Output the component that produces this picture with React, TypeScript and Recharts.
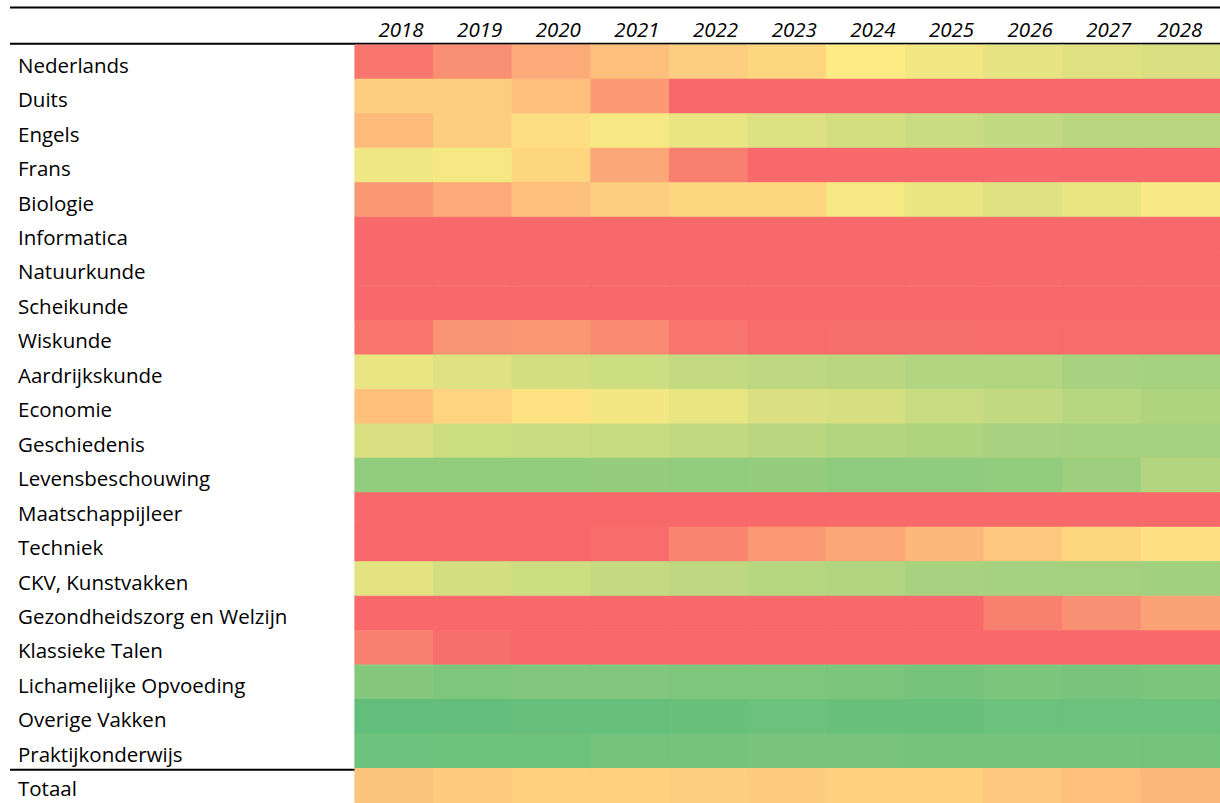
import { BarChart, Bar, Cell, XAxis, YAxis, Customized } from 'recharts';

// score per cell on the colour scale: 0 = red, 50 = yellow, 100 = green
const years = ['2018', '2019', '2020', '2021', '2022', '2023', '2024', '2025', '2026', '2027', '2028'];

const subjects = [
  'Nederlands',
  'Duits',
  'Engels',
  'Frans',
  'Biologie',
  'Informatica',
  'Natuurkunde',
  'Scheikunde',
  'Wiskunde',
  'Aardrijkskunde',
  'Economie',
  'Geschiedenis',
  'Levensbeschouwing',
  'Maatschappijleer',
  'Techniek',
  'CKV, Kunstvakken',
  'Gezondheidszorg en Welzijn',
  'Klassieke Talen',
  'Lichamelijke Opvoeding',
  'Overige Vakken',
  'Praktijkonderwijs',
  'Totaal',
];

const nederlands = [5, 15, 25, 33, 39, 42, 50, 54, 58, 60, 62];
const duits = [39, 39, 33, 19, 0, 0, 0, 0, 0, 0, 0];
const engels = [31, 39, 45, 53, 57, 61, 64, 67, 70, 72, 72];
const frans = [55, 53, 42, 24, 9, 0, 0, 0, 0, 0, 0];
const biologie = [18, 25, 33, 39, 42, 42, 53, 57, 60, 57, 52];
const informatica = [0, 0, 0, 0, 0, 0, 0, 0, 0, 0, 0];
const natuurkunde = [0, 0, 0, 0, 0, 0, 0, 0, 0, 0, 0];
const scheikunde = [0, 0, 0, 0, 0, 0, 0, 0, 0, 0, 0];
const wiskunde = [5, 17, 18, 13, 5, 1, 2, 2, 1, 1, 1];
const aardrijkskunde = [57, 60, 64, 66, 69, 71, 72, 75, 75, 78, 79];
const economie = [34, 41, 47, 54, 57, 62, 63, 67, 70, 73, 76];
const geschiedenis = [62, 66, 67, 68, 70, 72, 74, 76, 78, 79, 79];
const levensbeschouwing = [85, 85, 85, 84, 85, 84, 86, 86, 85, 81, 74];
const maatschappijleer = [0, 0, 0, 0, 0, 0, 0, 0, 0, 0, 0];
const techniek = [0, 0, 0, 1.5, 11, 19, 24, 30, 36, 42, 46];
const ckv = [59, 64, 66, 69, 71, 73, 75, 78, 79, 79, 80];
const gezondheidszorg = [0, 0, 0, 0, 0, 0, 0, 0, 8.5, 15, 22];
const klassiekeTalen = [9, 2, 0, 0, 0, 0, 0, 0, 0, 0, 0];
const lichamelijkeOpvoeding = [89, 91, 90, 90, 91, 91, 92, 94, 92, 93, 92];
const overigeVakken = [100, 100, 99, 99, 98, 97, 98, 98, 97, 97, 97];
const praktijkonderwijs = [97, 96, 96, 95, 94, 93, 93, 94, 94, 94, 95];
const totaal = [35, 38, 40, 40, 39, 38, 40, 40, 36, 33, 30];

const scores = [
  nederlands, duits, engels, frans, biologie, informatica, natuurkunde, scheikunde,
  wiskunde, aardrijkskunde, economie, geschiedenis, levensbeschouwing, maatschappijleer,
  techniek, ckv, gezondheidszorg, klassiekeTalen, lichamelijkeOpvoeding, overigeVakken,
  praktijkonderwijs, totaal,
];

// every cell has width 1 in the stack, colour comes from the score
const data = subjects.map((name) => {
  const row: Record<string, string | number> = { name };
  years.forEach((_, c) => {
    row[`c${c}`] = 1;
  });
  return row;
});

const RED = [248, 105, 107];
const YELLOW = [255, 235, 132];
const GREEN = [99, 190, 123];

const mix = (a: number[], b: number[], t: number) =>
  `rgb(${a.map((v, i) => Math.round(v + (b[i] - v) * t)).join(',')})`;

const colorFor = (s: number) => (s <= 50 ? mix(RED, YELLOW, s / 50) : mix(YELLOW, GREEN, (s - 50) / 50));

const FONT = '"Open Sans", sans-serif';

const YearTick = (props: any) => {
  const { x, payload } = props;
  return (
    <text x={x - 10} y={37} textAnchor="end" fontFamily={FONT} fontSize={20.5} fontStyle="italic" fill="#000">
      {years[payload.value - 1]}
    </text>
  );
};

const SubjectTick = (props: any) => {
  const { y, payload } = props;
  return (
    <text x={18} y={y + 10.5} textAnchor="start" fontFamily={FONT} fontSize={20.5} fill="#000">
      {payload.value}
    </text>
  );
};

const Rules = () => (
  <g>
    <line x1={10} x2={1220} y1={7.5} y2={7.5} stroke="#000" strokeWidth={2} />
    <line x1={10} x2={1220} y1={43.7} y2={43.7} stroke="#000" strokeWidth={2} />
    <line x1={10} x2={1220} y1={769.8} y2={769.8} stroke="#000" strokeWidth={2} />
  </g>
);

export default function App() {
  return (
    <div style={{ position: 'absolute', left: 0, top: 0, width: 1220, height: 803, overflow: 'hidden', background: '#fff' }}>
      <BarChart
        width={1220}
        height={803}
        data={data}
        layout="vertical"
        barCategoryGap={0}
        margin={{ top: 0, right: 0, bottom: 0, left: 0 }}
      >
        <XAxis
          type="number"
          orientation="top"
          domain={[0, years.length]}
          ticks={years.map((_, i) => i + 1)}
          height={45}
          axisLine={false}
          tickLine={false}
          tick={<YearTick />}
        />
        <YAxis
          type="category"
          dataKey="name"
          width={355}
          axisLine={false}
          tickLine={false}
          interval={0}
          tick={<SubjectTick />}
        />
        {years.map((_, c) => (
          <Bar key={c} dataKey={`c${c}`} stackId="cells" isAnimationActive={false}>
            {subjects.map((_, r) => (
              <Cell key={r} fill={colorFor(scores[r][c])} stroke={colorFor(scores[r][c])} strokeWidth={1.2} />
            ))}
          </Bar>
        ))}
        <Customized component={Rules} />
      </BarChart>
    </div>
  );
}
